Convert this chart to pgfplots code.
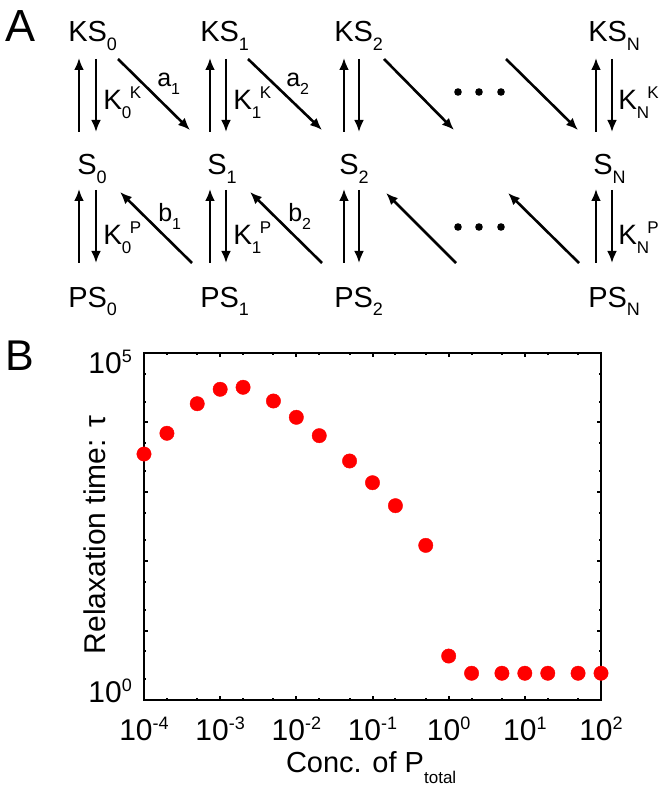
\documentclass[border=0pt]{standalone}
\usepackage{fontspec}
\setmainfont{Liberation Sans}
\usepackage{pgfplots}
\pgfplotsset{compat=1.18}
\usetikzlibrary{arrows.meta}
\newcommand\fs[1]{\fontsize{#1}{#1}\selectfont}
\newcommand\sub[1]{\raisebox{-0.3em}{\fs{18}#1}}
\newcommand\rsub[1]{\raisebox{-0.3em}{\fs{17}#1}}
\newcommand\sups[1]{\raisebox{0.42em}{\fs{17}#1}}
\newcommand\tsup[1]{\raisebox{0.36em}{\fs{18}#1}}
\begin{document}
\begin{tikzpicture}
\useasboundingbox (0,0) rectangle (662pt,-791pt);
\begin{scope}[x=1pt,y=-1pt, >={Latex[length=12pt,width=10pt]}, line width=2.6pt]
  \tikzset{lab/.style={anchor=base west, inner sep=0pt, font=\fs{29}},
           rl/.style={anchor=base west, inner sep=0pt, font=\fs{28}},
           sl/.style={anchor=base west, inner sep=0pt, font=\fs{25}}}
  % panel letters
  \node[anchor=base west, inner sep=0pt, font=\fs{45}] at (4,42) {A};
  \node[anchor=base west, inner sep=0pt, font=\fs{43}] at (4,370) {B};
  % species
  \node[lab] at (67,42) {KS\sub{0}};
  \node[lab] at (199,42) {KS\sub{1}};
  \node[lab] at (333,42) {KS\sub{2}};
  \node[lab] at (587,42) {KS\sub{N}};
  \node[lab] at (76,175) {S\sub{0}};
  \node[lab] at (206,175) {S\sub{1}};
  \node[lab] at (338,175) {S\sub{2}};
  \node[lab] at (592,175) {S\sub{N}};
  \node[lab] at (67,307) {PS\sub{0}};
  \node[lab] at (199,307) {PS\sub{1}};
  \node[lab] at (333,307) {PS\sub{2}};
  \node[lab] at (587,307) {PS\sub{N}};
  % vertical arrows
  \foreach \u/\d in {79/96, 210/226, 344/359, 596/612} {
    \draw[->] (\u,132) -- (\u,58);
    \draw[->] (\d,59) -- (\d,132);
    \draw[->] (\u,263) -- (\u,189);
    \draw[->] (\d,190) -- (\d,263);
  }
  % rate labels
  \node[rl] at (102,110) {K\rsub{0}\kern-1.5pt\sups{K}};
  \node[rl] at (232,110) {K\rsub{1}\kern-1.5pt\sups{K}};
  \node[rl] at (617,110) {K\rsub{N}\kern-2pt\sups{K}};
  \node[rl] at (102,245) {K\rsub{0}\kern-1.5pt\sups{P}};
  \node[rl] at (232,245) {K\rsub{1}\kern-1.5pt\sups{P}};
  \node[rl] at (617,245) {K\rsub{N}\kern-2pt\sups{P}};
  \node[sl] at (156,87) {a\raisebox{-0.3em}{\fs{16}1}};
  \node[sl] at (285,87) {a\raisebox{-0.3em}{\fs{16}2}};
  \node[sl] at (157,222) {b\raisebox{-0.3em}{\fs{16}1}};
  \node[sl] at (287,222) {b\raisebox{-0.3em}{\fs{16}2}};
  % diagonal arrows
  \draw[->] (118,59) -- (190,130);
  \draw[->] (248,59) -- (322,130);
  \draw[->] (384,59) -- (454,130);
  \draw[->] (506,59) -- (578,130);
  \draw[->] (192,263) -- (120,192);
  \draw[->] (322,263) -- (250,192);
  \draw[->] (456,263) -- (386,193);
  \draw[->] (579,263) -- (508,193);
  % ellipsis dots
  \foreach \x in {458,479,501} {
    \fill (\x,92) circle (3.8pt);
    \fill (\x,227) circle (3.8pt);
  }
\end{scope}
\begin{axis}[
  at={(144pt,-700pt)}, anchor=south west,
  scale only axis, width=457pt, height=347pt,
  xmode=log, ymode=log,
  xmin=1e-4, xmax=100, ymin=1, ymax=1e5,
  clip=false,
  axis line style={line width=2.6pt},
  tick align=inside,
  every tick/.style={black, line width=2pt},
  major tick length=4pt, minor tick length=2.5pt,
  xtick={1e-4,1e-3,1e-2,1e-1,1,10,100},
  xticklabels={10\tsup{-4},10\tsup{-3},10\tsup{-2},10\tsup{-1},10\tsup{0},10\tsup{1},10\tsup{2}},
  minor xtick={2e-4,5e-4,2e-3,5e-3,2e-2,5e-2,0.2,0.5,2,5,20,50},
  ytick={1,10,100,1000,10000,100000},
  yticklabels={\raisebox{-2pt}{10\tsup{0}},,,,,\raisebox{-20pt}{10\tsup{5}}},
  minor ytick={2,5,20,50,200,500,2000,5000,20000,50000},
  xticklabel style={anchor=base, inner sep=0pt, yshift=-40pt, font=\fs{30}},
  yticklabel style={anchor=base east, inner sep=0pt, xshift=-12pt, font=\fs{30}},
  xlabel={Conc. of P\raisebox{-0.4em}{\fs{17}total}},
  xlabel style={at={(axis description cs:0.497,-0.2075)}, anchor=base, inner sep=0pt, font=\fs{29}},
  ylabel={Relaxation time: τ},
  ylabel style={at={(axis description cs:-0.0853,0.4755)}, anchor=base, rotate=0, inner sep=0pt, font=\fs{30}},
]
\addplot[only marks, mark=*, mark size=7.2pt, color=red, mark options={fill=red, draw=none}] coordinates {
  (1e-4,3505) (2e-4,6970) (5e-4,18600) (1e-3,30000) (2e-3,32070)
  (5e-3,20340) (1e-2,11840) (2e-2,6440) (5e-2,2780) (1e-1,1352)
  (2e-1,631) (5e-1,169) (1,4.3) (2,2.43) (5,2.43) (10,2.43)
  (20,2.43) (50,2.43) (100,2.43)
};
\end{axis}
\end{tikzpicture}
\end{document}
